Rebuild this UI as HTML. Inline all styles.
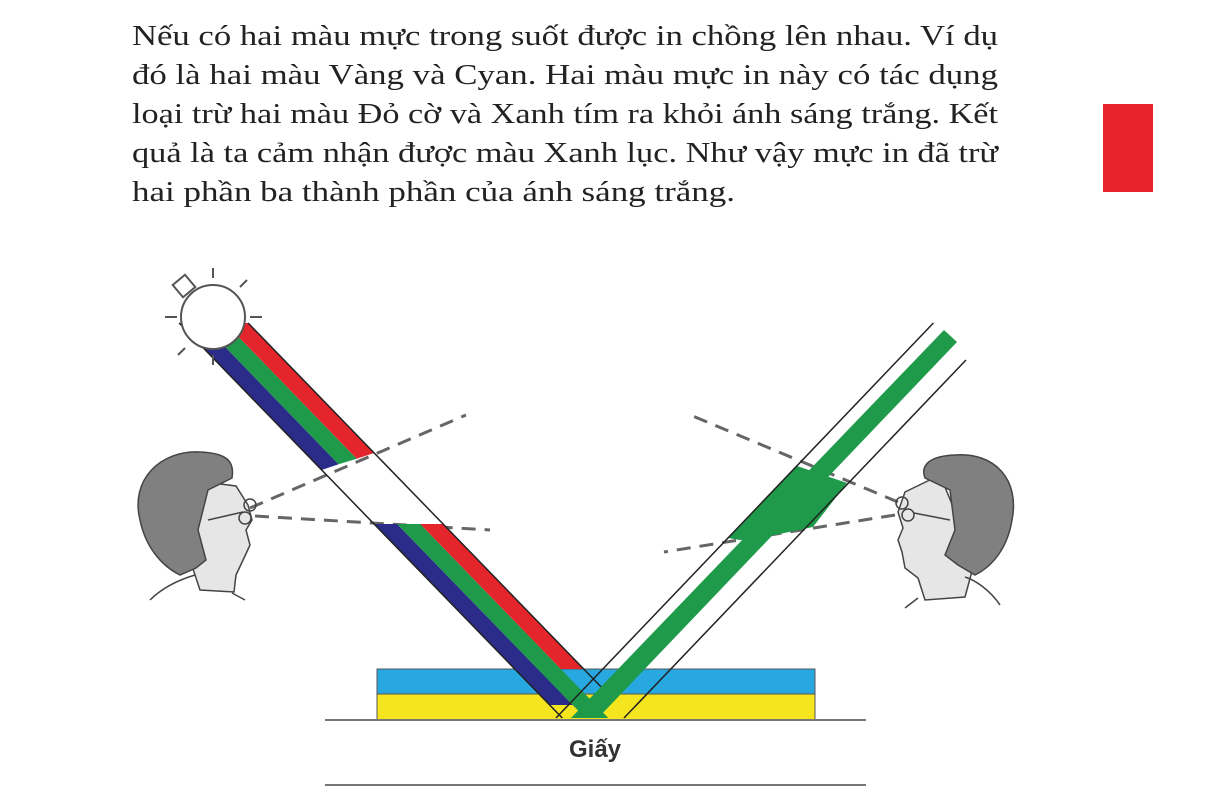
<!DOCTYPE html>
<html><head><meta charset="utf-8"><style>
html,body{margin:0;padding:0;background:#fff;width:1206px;height:796px;overflow:hidden}
svg{display:block}
</style></head><body>
<svg width="1206" height="796" viewBox="0 0 1206 796" xmlns="http://www.w3.org/2000/svg">
<g font-family="'Liberation Serif', serif" font-size="28" fill="#222">
<text x="132" y="45" textLength="866" lengthAdjust="spacingAndGlyphs">Nếu có hai màu mực trong suốt được in chồng lên nhau. Ví dụ</text>
<text x="132" y="84" textLength="866" lengthAdjust="spacingAndGlyphs">đó là hai màu Vàng và Cyan. Hai màu mực in này có tác dụng</text>
<text x="132" y="123" textLength="866" lengthAdjust="spacingAndGlyphs">loại trừ hai màu Đỏ cờ và Xanh tím ra khỏi ánh sáng trắng. Kết</text>
<text x="132" y="162" textLength="866" lengthAdjust="spacingAndGlyphs">quả là ta cảm nhận được màu Xanh lục. Như vậy mực in đã trừ</text>
<text x="132" y="201" textLength="603" lengthAdjust="spacingAndGlyphs">hai phần ba thành phần của ánh sáng trắng.</text>
</g>
<rect x="1103" y="104" width="50" height="88" fill="#e8232a"/>

<!-- layers -->
<rect x="377" y="669" width="438" height="25" fill="#27a8e0" stroke="#555" stroke-width="1"/>
<rect x="377" y="694" width="438" height="26" fill="#f5e51e" stroke="#555" stroke-width="1"/>
<line x1="325" y1="720" x2="866" y2="720" stroke="#777" stroke-width="2"/>
<line x1="325" y1="785" x2="866" y2="785" stroke="#777" stroke-width="2"/>
<text x="595" y="757" font-family="'Liberation Sans', sans-serif" font-weight="bold" font-size="24" fill="#333" text-anchor="middle">Giấy</text>

<!-- dashed eye lines -->
<g stroke="#666" stroke-width="3" stroke-dasharray="14 9" fill="none">
<line x1="250" y1="508" x2="466" y2="415"/>
<line x1="255" y1="516" x2="490" y2="530"/>
<line x1="898" y1="502" x2="688" y2="414"/>
<line x1="895" y1="515" x2="664" y2="552"/>
</g>

<!-- left beam -->
<polygon points="179.1,323 202.1,323 338.6,464.3 321.7,470" fill="#2b2c8a"/>
<polygon points="202.1,323 225.1,323 356.7,458.7 338.6,464.3" fill="#1e9a4a"/>
<polygon points="225.1,323 248.1,323 374.2,453 356.7,458.7" fill="#e4262c"/>
<polygon points="374.1,524 397.1,524 572.7,705 549.7,705" fill="#2b2c8a"/>
<polygon points="420.1,524 443.1,524 583.7,669 560.7,669" fill="#e4262c"/>
<polygon points="397.1,524 420.1,524 608.3,718 585.3,718" fill="#1e9a4a"/>
<line x1="179.1" y1="323" x2="562.3" y2="718" stroke="#222" stroke-width="1.5"/>
<line x1="248.1" y1="323" x2="613.8" y2="700" stroke="#222" stroke-width="1.5"/>

<!-- right beam -->
<polygon points="571,718 598,718 957,342 944,330" fill="#1e9a4a"/>
<polygon points="797,466 847,483 813,527 760,538 740,540 728,538" fill="#1e9a4a"/>
<line x1="556" y1="718" x2="933.4" y2="323" stroke="#222" stroke-width="1.5"/>
<line x1="624" y1="718" x2="966" y2="360" stroke="#222" stroke-width="1.5"/>

<!-- lamp -->
<g stroke="#555" stroke-width="2" fill="#fff">
<rect x="176" y="278" width="16" height="16" transform="rotate(-40 184 286)"/>
<circle cx="213" cy="317" r="32"/>
<line x1="213" y1="268" x2="213" y2="278"/>
<line x1="240" y1="287" x2="247" y2="280"/>
<line x1="165" y1="317" x2="177" y2="317"/>
<line x1="185" y1="348" x2="178" y2="355"/>
<line x1="213" y1="355" x2="213" y2="365"/>
<line x1="250" y1="317" x2="262" y2="317"/>
</g>

<!-- left head -->
<g stroke="#444" stroke-width="1.5">
<path d="M205,482 L236,486 248,505 252,520 246,530 250,545 244,558 236,575 234,592 200,590 190,560 Z" fill="#e6e6e6"/>
<path d="M140,520 C130,480 160,450 200,452 C225,453 235,460 232,478 L208,490 198,530 206,560 196,568 180,575 C160,565 145,545 140,520 Z" fill="#808080"/>
<circle cx="250" cy="505" r="6" fill="none"/>
<circle cx="245" cy="518" r="6" fill="none"/>
<line x1="208" y1="520" x2="243" y2="512" fill="none"/>
<path d="M150,600 C165,585 185,578 195,575" fill="none"/>
<path d="M232,593 L245,600" fill="none"/>
</g>
<!-- right head -->
<g stroke="#444" stroke-width="1.5">
<path d="M940,475 L905,492 898,512 903,528 898,540 902,552 905,568 918,578 925,600 965,597 975,560 Z" fill="#e6e6e6"/>
<path d="M1012,520 C1020,480 995,452 955,455 C930,456 920,465 925,478 L950,490 955,530 945,555 958,565 975,575 C995,565 1008,545 1012,520 Z" fill="#808080"/>
<circle cx="902" cy="503" r="6" fill="none"/>
<circle cx="908" cy="515" r="6" fill="none"/>
<line x1="914" y1="513" x2="950" y2="520" fill="none"/>
<path d="M1000,605 C990,590 975,580 965,577" fill="none"/>
<path d="M918,598 L905,608" fill="none"/>
</g>
</svg>
</body></html>
